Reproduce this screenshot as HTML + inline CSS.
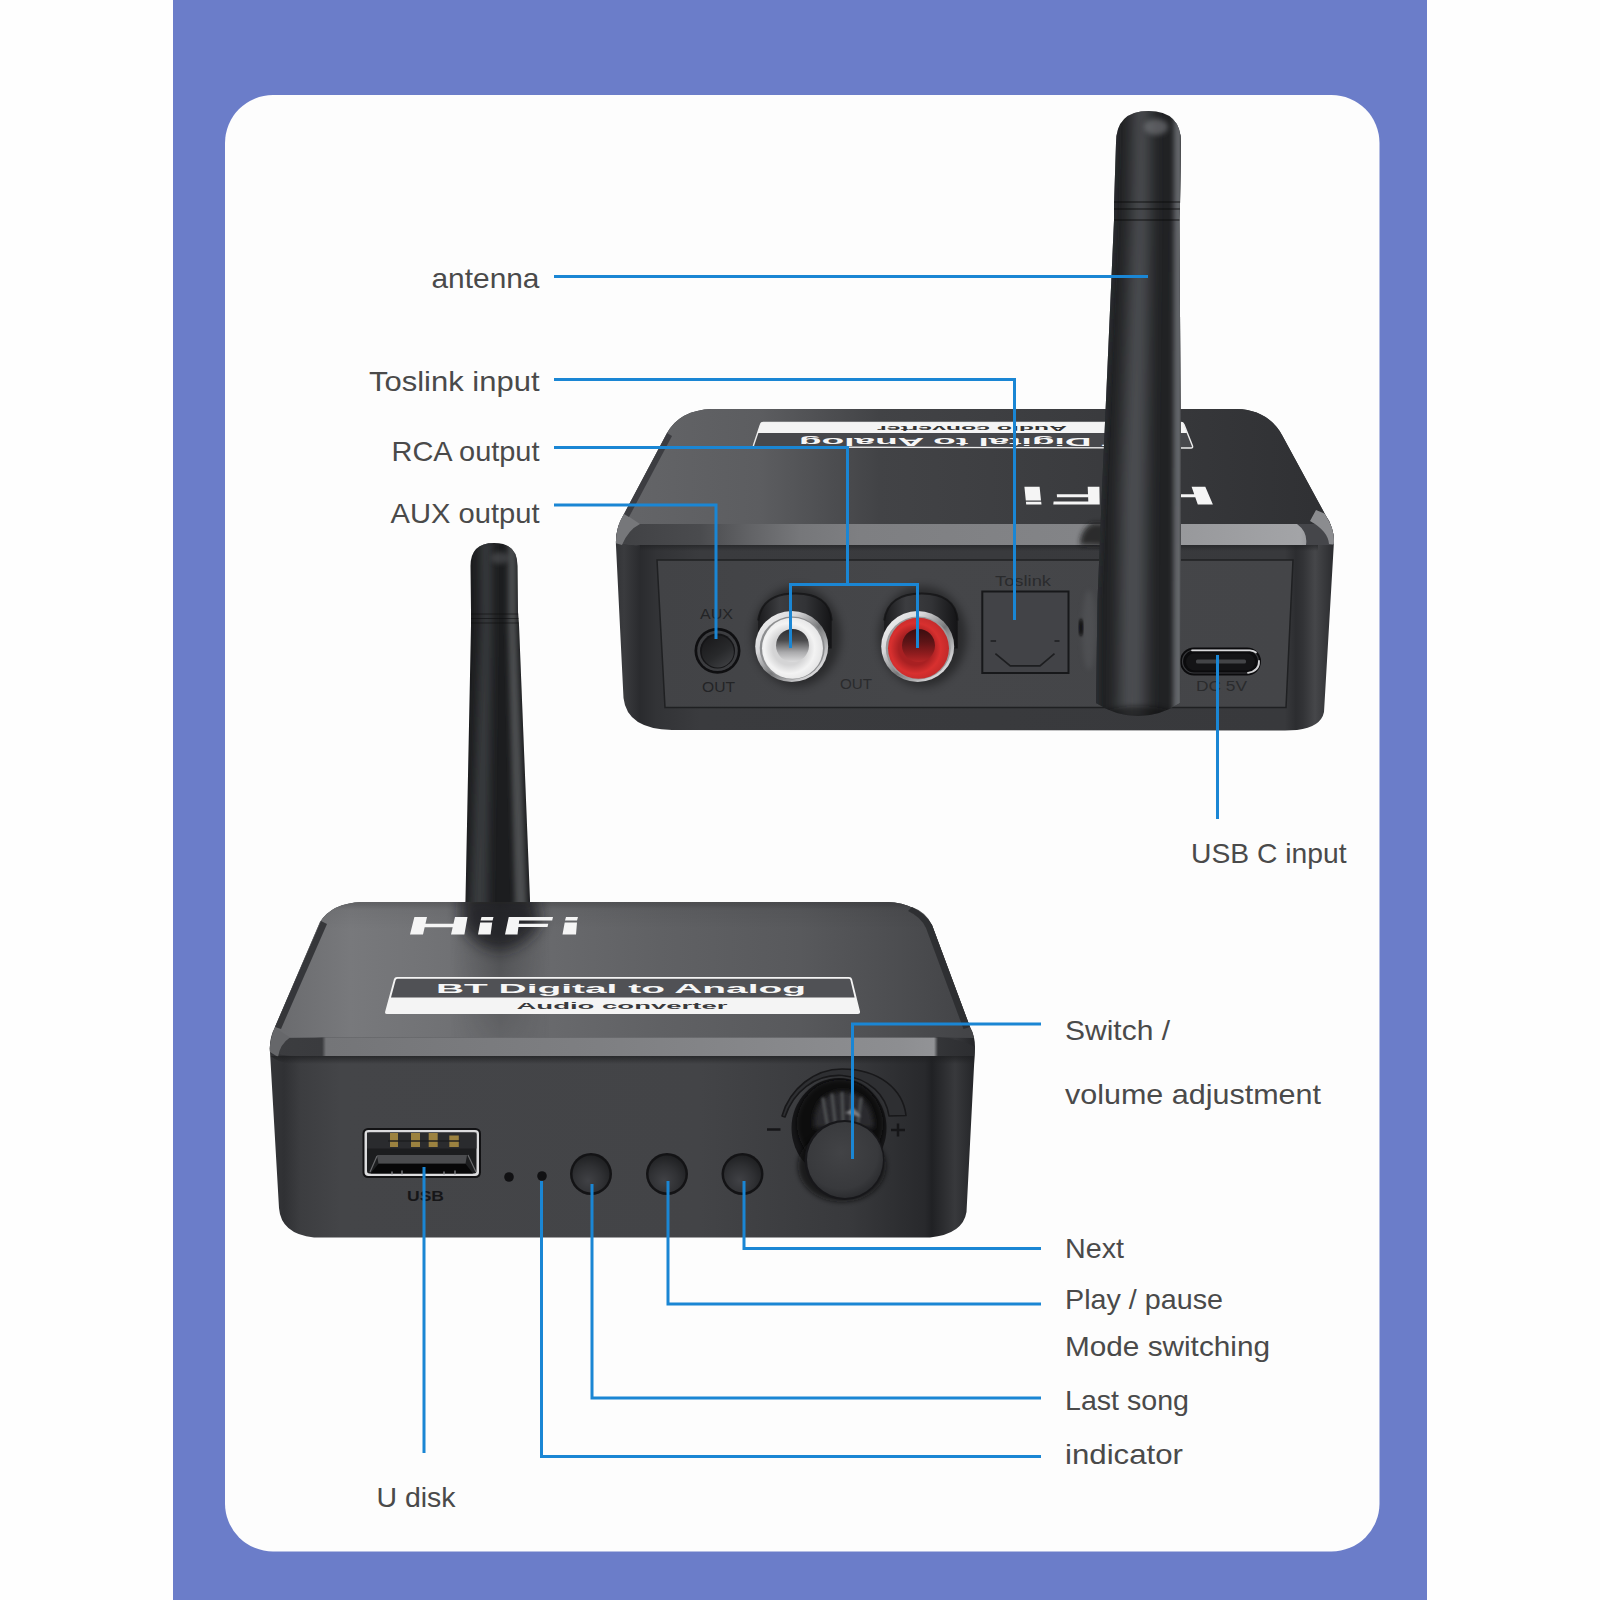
<!DOCTYPE html>
<html>
<head>
<meta charset="utf-8">
<title>Product ports</title>
<style>
html,body{margin:0;padding:0;background:#fefefe;}
body{width:1600px;height:1600px;overflow:hidden;font-family:"Liberation Sans",sans-serif;}
svg{display:block;}
.lbl{font-family:"Liberation Sans",sans-serif;font-size:28.500px;fill:#4a4a4a;}
.ln{fill:none;stroke:#1a86d4;stroke-width:3;stroke-linejoin:miter;stroke-linecap:butt;}
</style>
</head>
<body>
<svg width="1600" height="1600" viewBox="0 0 1600 1600">
<defs>

<linearGradient id="tTop" x1="620" y1="0" x2="1334" y2="0" gradientUnits="userSpaceOnUse"><stop offset="0.0000" stop-color="#646568"/><stop offset="0.1961" stop-color="#5c5d60"/><stop offset="0.3641" stop-color="#424346"/><stop offset="0.6723" stop-color="#3a3b3e"/><stop offset="1.0000" stop-color="#2f3033"/></linearGradient>
<linearGradient id="tCham" x1="616" y1="0" x2="1334" y2="0" gradientUnits="userSpaceOnUse"><stop offset="0.0000" stop-color="#404144"/><stop offset="0.1170" stop-color="#4a4b4e"/><stop offset="0.1866" stop-color="#626366"/><stop offset="0.2563" stop-color="#76777a"/><stop offset="0.3398" stop-color="#7e7f82"/><stop offset="0.6462" stop-color="#838487"/><stop offset="0.7925" stop-color="#98999c"/><stop offset="0.9526" stop-color="#a3a4a7"/><stop offset="1.0000" stop-color="#78797c"/></linearGradient>
<linearGradient id="tFront" x1="615" y1="0" x2="1334" y2="0" gradientUnits="userSpaceOnUse"><stop offset="0.0000" stop-color="#323336"/><stop offset="0.0125" stop-color="#3a3b3e"/><stop offset="0.0348" stop-color="#2a2b2e"/><stop offset="0.0570" stop-color="#323336"/><stop offset="0.1182" stop-color="#3a3b3e"/><stop offset="0.9318" stop-color="#38393c"/><stop offset="0.9471" stop-color="#2c2d30"/><stop offset="0.9569" stop-color="#323336"/><stop offset="0.9736" stop-color="#46474a"/><stop offset="0.9889" stop-color="#36373a"/><stop offset="1.0000" stop-color="#2a2b2e"/></linearGradient>
<linearGradient id="tPanel" x1="657" y1="0" x2="1292" y2="0" gradientUnits="userSpaceOnUse"><stop offset="0.0000" stop-color="#424346"/><stop offset="0.3827" stop-color="#454649"/><stop offset="1.0000" stop-color="#444548"/></linearGradient>
<linearGradient id="ant1" x1="0" y1="0" x2="1" y2="0">
 <stop offset="0" stop-color="#1b1b1d"/><stop offset="0.18" stop-color="#232326"/><stop offset="0.42" stop-color="#3a3a3e"/><stop offset="0.6" stop-color="#252528"/><stop offset="0.85" stop-color="#1a1a1c"/><stop offset="1" stop-color="#2c2c2f"/>
</linearGradient>
<radialGradient id="rcaW" cx="0.5" cy="0.5" r="0.5">
 <stop offset="0" stop-color="#3a3a3c"/><stop offset="0.35" stop-color="#6a6a6c"/><stop offset="0.52" stop-color="#d8d8d8"/><stop offset="0.8" stop-color="#f4f4f4"/><stop offset="1" stop-color="#e2e2e2"/>
</radialGradient>
<radialGradient id="rcaR" cx="0.5" cy="0.5" r="0.5">
 <stop offset="0" stop-color="#3a1012"/><stop offset="0.35" stop-color="#7a1a1c"/><stop offset="0.52" stop-color="#c62a2a"/><stop offset="0.8" stop-color="#d93333"/><stop offset="1" stop-color="#c42b2b"/>
</radialGradient>
<linearGradient id="chrome" x1="0" y1="0" x2="1" y2="1"><stop offset="0" stop-color="#fafafa"/><stop offset="0.3" stop-color="#d8d8da"/><stop offset="0.55" stop-color="#77787a"/><stop offset="0.8" stop-color="#cfcfd1"/><stop offset="1" stop-color="#f0f0f0"/></linearGradient>
<linearGradient id="shell" x1="0" y1="0" x2="1" y2="0"><stop offset="0" stop-color="#1a1a1c"/><stop offset="0.3" stop-color="#3c3d40"/><stop offset="0.65" stop-color="#323336"/><stop offset="1" stop-color="#141416"/></linearGradient>

<linearGradient id="bTop" x1="270" y1="0" x2="975" y2="0" gradientUnits="userSpaceOnUse"><stop offset="0.0000" stop-color="#68696c"/><stop offset="0.1135" stop-color="#78797c"/><stop offset="0.3262" stop-color="#6c6d70"/><stop offset="0.5532" stop-color="#606164"/><stop offset="0.7518" stop-color="#58595c"/><stop offset="0.8936" stop-color="#4c4d50"/><stop offset="1.0000" stop-color="#424346"/></linearGradient>
<linearGradient id="bTopV" x1="0" y1="902" x2="0" y2="1038" gradientUnits="userSpaceOnUse"><stop offset="0" stop-color="#000" stop-opacity="0.07"/><stop offset="0.2" stop-color="#000" stop-opacity="0"/><stop offset="1" stop-color="#000" stop-opacity="0"/></linearGradient>
<linearGradient id="bCham" x1="270" y1="0" x2="975" y2="0" gradientUnits="userSpaceOnUse"><stop offset="0.0000" stop-color="#3c3d40"/><stop offset="0.0738" stop-color="#3a3b3e"/><stop offset="0.0794" stop-color="#747578"/><stop offset="0.4681" stop-color="#7e7f82"/><stop offset="0.8936" stop-color="#8d8e91"/><stop offset="0.9418" stop-color="#929396"/><stop offset="0.9475" stop-color="#343538"/><stop offset="1.0000" stop-color="#2c2d30"/></linearGradient>
<linearGradient id="bFront" x1="270" y1="0" x2="975" y2="0" gradientUnits="userSpaceOnUse"><stop offset="0.0000" stop-color="#343538"/><stop offset="0.0199" stop-color="#303134"/><stop offset="0.0426" stop-color="#3c3d40"/><stop offset="0.0993" stop-color="#444548"/><stop offset="0.6099" stop-color="#434447"/><stop offset="0.8227" stop-color="#38393c"/><stop offset="0.9291" stop-color="#28292c"/><stop offset="0.9390" stop-color="#202124"/><stop offset="0.9716" stop-color="#38393c"/><stop offset="1.0000" stop-color="#242528"/></linearGradient>
<linearGradient id="ant2" x1="0" y1="0" x2="1" y2="0">
 <stop offset="0" stop-color="#1a1a1c"/><stop offset="0.25" stop-color="#252528"/><stop offset="0.5" stop-color="#323236"/><stop offset="0.7" stop-color="#222225"/><stop offset="1" stop-color="#19191b"/>
</linearGradient>
<radialGradient id="btn" cx="0.42" cy="0.68" r="0.7"><stop offset="0" stop-color="#404145"/><stop offset="0.55" stop-color="#303134"/><stop offset="1" stop-color="#1f2022"/></radialGradient>
<radialGradient id="knob" cx="0.45" cy="0.4" r="0.6">
 <stop offset="0" stop-color="#424346"/><stop offset="0.8" stop-color="#38393c"/><stop offset="1" stop-color="#2c2d30"/>
</radialGradient>

<filter id="blur3" x="-50%" y="-50%" width="200%" height="200%"><feGaussianBlur stdDeviation="2.500"/></filter>
<filter id="blur4" x="-50%" y="-50%" width="200%" height="200%"><feGaussianBlur stdDeviation="4"/></filter>
<filter id="blur6" x="-50%" y="-50%" width="200%" height="200%"><feGaussianBlur stdDeviation="7"/></filter>
<filter id="blur10" x="-50%" y="-50%" width="200%" height="200%"><feGaussianBlur stdDeviation="10"/></filter>
<clipPath id="ant1clip"><path d="M1116 143 Q1116 111 1148.500 111 Q1181 111 1181 143 L1180 205 L1179.500 220 L1181 490 L1180 703 Q1160 716 1138 716 Q1116 716 1096 703 L1097.500 600 L1102 490 L1114 220 L1114 205 Z"/></clipPath>
<clipPath id="ant2clip"><path d="M470.500 566 Q470.500 543 494 543 Q517.500 543 517.500 566 L518 612 L519 625 L530 900 L530 910 L465 910 L465.500 900 L471 625 L471 612 Z"/></clipPath>

<radialGradient id="plasW" cx="0.45" cy="0.5" r="0.55"><stop offset="0.5" stop-color="#d4d4d5"/><stop offset="0.75" stop-color="#f3f3f3"/><stop offset="1" stop-color="#e4e4e5"/></radialGradient>
<radialGradient id="plasR" cx="0.45" cy="0.5" r="0.55"><stop offset="0.5" stop-color="#a82022"/><stop offset="0.75" stop-color="#d8302f"/><stop offset="1" stop-color="#c22a2a"/></radialGradient>
<linearGradient id="holeW" x1="0" y1="0" x2="0" y2="1"><stop offset="0" stop-color="#2e2e30"/><stop offset="0.35" stop-color="#4c4c4e"/><stop offset="0.7" stop-color="#a9a9ab"/><stop offset="1" stop-color="#dcdcdd"/></linearGradient>
<linearGradient id="holeR" x1="0" y1="0" x2="0" y2="1"><stop offset="0" stop-color="#3a0e10"/><stop offset="0.4" stop-color="#5e1416"/><stop offset="0.75" stop-color="#8f1c1e"/><stop offset="1" stop-color="#b52526"/></linearGradient>

<clipPath id="bTopClip"><path d="M362 902 L887 902 Q918 903 932 925 L970 1027 Q973 1032 974 1038 L940 1037.500 L325 1037.500 L272 1040 Q272 1033 275 1027 L320 922 Q332 903 362 902 Z"/></clipPath>
<clipPath id="tTopClip"><path d="M712 409 L1237 409 Q1268 410 1282 435 L1326 516 Q1330 521 1331 526 L1300 524 L640 524 L620 527 Q620 520 624 514 L667 433 Q680 410 712 409 Z"/></clipPath>

<linearGradient id="bUnder" x1="0" y1="1056" x2="0" y2="1064" gradientUnits="userSpaceOnUse"><stop offset="0" stop-color="#1e1f21" stop-opacity="0.75"/><stop offset="1" stop-color="#1e1f21" stop-opacity="0"/></linearGradient>
<linearGradient id="tUnder" x1="0" y1="545" x2="0" y2="551" gradientUnits="userSpaceOnUse"><stop offset="0" stop-color="#1e1f21" stop-opacity="0.6"/><stop offset="1" stop-color="#1e1f21" stop-opacity="0"/></linearGradient>

<linearGradient id="auxHole" x1="0.2" y1="0.1" x2="0.8" y2="0.95"><stop offset="0" stop-color="#1b1b1d"/><stop offset="0.55" stop-color="#28292b"/><stop offset="1" stop-color="#3d3e41"/></linearGradient>
<clipPath id="tSil"><path d="M712 409 L1237 409 Q1268 410 1282 435 L1326 516 Q1334 528 1334 541 L1324 712 Q1321 727 1297 730 L1285 730.500 L672 730 Q627 729 623.500 698 L616 546 Q615 528 624 514 L667 433 Q680 410 712 409 Z"/></clipPath>
<filter id="blur1" x="-20%" y="-20%" width="140%" height="140%"><feGaussianBlur stdDeviation="0.900"/></filter>
<linearGradient id="smear" x1="0" y1="900" x2="0" y2="1040" gradientUnits="userSpaceOnUse"><stop offset="0" stop-color="#1d1e20" stop-opacity="0.55"/><stop offset="0.5" stop-color="#1d1e20" stop-opacity="0.3"/><stop offset="1" stop-color="#1d1e20" stop-opacity="0.12"/></linearGradient>
<linearGradient id="smearH" x1="450" y1="0" x2="550" y2="0" gradientUnits="userSpaceOnUse"><stop offset="0" stop-color="#1d1e20" stop-opacity="0"/><stop offset="0.25" stop-color="#1d1e20" stop-opacity="0.5"/><stop offset="0.5" stop-color="#1d1e20" stop-opacity="1"/><stop offset="0.75" stop-color="#1d1e20" stop-opacity="0.5"/><stop offset="1" stop-color="#1d1e20" stop-opacity="0"/></linearGradient>
<linearGradient id="smearV" x1="0" y1="900" x2="0" y2="1040" gradientUnits="userSpaceOnUse"><stop offset="0" stop-color="#fff" stop-opacity="0.5"/><stop offset="0.5" stop-color="#fff" stop-opacity="0.3"/><stop offset="1" stop-color="#fff" stop-opacity="0.1"/></linearGradient>
<mask id="smearMask" maskUnits="userSpaceOnUse" x="440" y="890" width="120" height="160"><rect x="440" y="890" width="120" height="160" fill="url(#smearV)"/></mask>
</defs>
<rect x="0" y="0" width="1600" height="1600" fill="#fefefe"/>
<rect x="173" y="0" width="1254" height="1600" fill="#6b7dc9"/>
<rect x="225" y="95" width="1154.500" height="1456.500" rx="48" ry="48" fill="#fdfdfd"/>


<g id="ant2" clip-path="url(#ant2clip)">
 <rect x="460" y="540" width="76" height="380" fill="#1c1d1f"/>
 <g filter="url(#blur4)">
  <path d="M480 540 L492 540 L492 625 L488 910 L470 910 L481 625 Z" fill="#393a3e"/>
 </g>
 <g filter="url(#blur3)">
  <path d="M508 540 L516 540 L516.500 625 L527 910 L515 910 L508 625 Z" fill="#4b4e50"/>
 </g>
 <path d="M468 614 H521 M468 618.500 H521 M468 623 H521" stroke="#0c0c0d" stroke-width="1.200" opacity="0.55"/>
 <ellipse cx="500" cy="558" rx="9" ry="6" fill="#66686c" opacity="0.45" filter="url(#blur3)"/>
</g>


<g id="topdev">
 <!-- silhouette / front face -->
 <path d="M712 409 L1237 409 Q1268 410 1282 435 L1326 516 Q1334 528 1334 541 L1324 712 Q1321 727 1297 730 L1285 730.500 L672 730 Q627 729 623.500 698 L616 546 Q615 528 624 514 L667 433 Q680 410 712 409 Z" fill="url(#tFront)"/>
 <!-- top face -->
 <path d="M712 409 L1237 409 Q1268 410 1282 435 L1326 516 Q1330 521 1331 526 L1300 524 L640 524 L620 527 Q620 520 624 514 L667 433 Q680 410 712 409 Z" fill="url(#tTop)"/>
 <!-- chamfer band -->
 <g clip-path="url(#tSil)">
 <path d="M610 524 L1340 524 L1340 545 L640 545 Q626 546 610 540 Z" fill="#45464a"/>
 <path d="M640 524 L1297 524 Q1308 532 1306 545 L640 545 Q626 546 616 540 Q616 530 622 524 Z" fill="url(#tCham)"/>
 <path d="M612 542 Q612 528 622 512 L640 524 Q628 530 622 545 Z" fill="#76777a"/>
 <path d="M667 433 L624 514 L629 517 L672 436 Z" fill="#38393d" opacity="0.9"/>
 <path d="M1316 510 L1340 520 L1340 545 L1329 544 Q1328 531 1310 521 Z" fill="#8b8c8f"/>
 </g>
 <path d="M640 545 L1318 545 L1318 551 L640 551 Z" fill="url(#tUnder)"/>
 <!-- inset panel -->
 <path d="M657 560 L1293 560 L1286 707.500 L665 707.500 Z" fill="url(#tPanel)" stroke="#1f2022" stroke-width="1.500"/>
 <!-- label on top -->
 <g>
  <path d="M763 422.500 L1181 422.500 Q1183 422.500 1184 424.500 L1192.500 446 Q1193 448 1191 448 L755 447 Q753 447 753.600 445 L760.500 424.500 Q761 422.500 763 422.500 Z" fill="#47484c" stroke="#ececec" stroke-width="1.400"/>
  <path d="M761 422.500 L1183 422.500 L1187 433 L757.500 433 Z" fill="#f4f4f4"/>
  <g transform="translate(972 428) scale(-1 -1)"><text x="0" y="0" text-anchor="middle" font-family="Liberation Sans" font-weight="bold" font-size="8" textLength="190" lengthAdjust="spacingAndGlyphs" fill="#333" dominant-baseline="middle">Audio converter</text></g>
  <g transform="translate(975 440.500) scale(-1 -1)"><text x="0" y="0" text-anchor="middle" font-family="Liberation Sans" font-weight="bold" font-size="11" textLength="352" lengthAdjust="spacingAndGlyphs" fill="#f6f6f6" dominant-baseline="middle">BT Digital to Analog</text></g>
 </g>
 <!-- HiFi upside down -->
 <g fill="#f5f5f5">
  <path d="M1024.400 486.700 H1039.600 L1041 500.400 H1025.800 Z M1025.900 501.800 H1041.200 L1041.500 504.600 H1026.200 Z"/>
  <path d="M1087.700 486.700 H1099.400 L1099.700 504.600 H1053.300 L1053.600 501.500 H1088.300 Z M1056.800 494.300 H1088 L1088.100 497.300 H1057 Z"/>
  <path d="M1191.600 486.700 H1205.300 L1212.900 504.600 H1197.800 Z M1170 494.300 H1195 L1196 497.300 H1170 Z"/>
 </g>
 <!-- AUX jack -->
 <g>
  <text x="716.500" y="619" text-anchor="middle" font-family="Liberation Sans" font-size="15" textLength="33" lengthAdjust="spacingAndGlyphs" fill="#232426">AUX</text>
  <text x="718.500" y="691.500" text-anchor="middle" font-family="Liberation Sans" font-size="15" textLength="33" lengthAdjust="spacingAndGlyphs" fill="#232426">OUT</text>
  <circle cx="717.500" cy="650.800" r="23" fill="#0f0f11"/>
  <circle cx="717.500" cy="650.800" r="20.300" fill="#3c3d40"/>
  <circle cx="717.500" cy="651" r="17.500" fill="#151517"/>
  <circle cx="717.800" cy="651.500" r="16" fill="url(#auxHole)"/>
 </g>
 <!-- RCA jacks -->
 <g transform="translate(791.700 646.500)">
  <ellipse cx="5" cy="-10" rx="44" ry="50" fill="#000" opacity="0.38" filter="url(#blur4)"/>
  <path d="M-34 2 L-33.500 -26 Q-30 -53 4 -53 Q38 -53 40 -26 L40 2 Z" fill="url(#shell)"/>
  <path d="M-33.500 -26 Q-30 -53 4 -53 Q38 -53 40 -26" fill="none" stroke="#111113" stroke-width="2" opacity="0.7"/>
  <ellipse cx="0" cy="0" rx="36.500" ry="35.500" fill="url(#chrome)"/>
  <ellipse cx="0.500" cy="1.500" rx="32.500" ry="31.500" fill="#8d8e90"/>
  <circle cx="0.800" cy="1.800" r="30.500" fill="url(#plasW)"/>
  <circle cx="0.800" cy="-1" r="16.500" fill="url(#holeW)"/>
 </g>
 <text x="856" y="689" text-anchor="middle" font-family="Liberation Sans" font-size="15" textLength="32" lengthAdjust="spacingAndGlyphs" fill="#2a2b2d">OUT</text>
 <g transform="translate(917.700 646.500)">
  <ellipse cx="5" cy="-10" rx="44" ry="50" fill="#000" opacity="0.38" filter="url(#blur4)"/>
  <path d="M-34 2 L-33.500 -26 Q-30 -53 4 -53 Q38 -53 40 -26 L40 2 Z" fill="url(#shell)"/>
  <path d="M-33.500 -26 Q-30 -53 4 -53 Q38 -53 40 -26" fill="none" stroke="#111113" stroke-width="2" opacity="0.7"/>
  <ellipse cx="0" cy="0" rx="36.500" ry="35.500" fill="url(#chrome)"/>
  <ellipse cx="0.500" cy="1.500" rx="32.500" ry="31.500" fill="#9a9a9c"/>
  <circle cx="0.800" cy="1.800" r="30.500" fill="url(#plasR)"/>
  <circle cx="0.800" cy="-1" r="16.500" fill="url(#holeR)"/>
 </g>
 <!-- Toslink -->
 <g>
  <text x="1023" y="586" text-anchor="middle" font-family="Liberation Sans" font-size="15" textLength="56" lengthAdjust="spacingAndGlyphs" fill="#2a2b2d">Toslink</text>
  <rect x="982.300" y="591.500" width="86.200" height="81.500" fill="#424347" stroke="#17181a" stroke-width="2"/>
  <path d="M995.400 653.600 L1010.300 665.900 L1040 665.900 L1054.500 653.600" fill="none" stroke="#1d1e20" stroke-width="1.700"/>
  <path d="M990.600 641 h5.500 M1054.500 641 h5" stroke="#1d1e20" stroke-width="1.700"/>
 </g>
 <!-- USB C -->
 <g>
  <rect x="1180" y="647.500" width="81" height="28" rx="14" fill="#0b0b0d"/>
  <rect x="1182.500" y="650" width="76" height="23" rx="11.500" fill="none" stroke="#38393c" stroke-width="1.200"/>
  <path d="M1192 650.300 H1250 Q1254 650.800 1256 652.500" fill="none" stroke="#d9d9db" stroke-width="1.700" stroke-linecap="round"/>
  <path d="M1259 661 Q1259.500 671 1248 672.800" fill="none" stroke="#d0d0d2" stroke-width="1.800" stroke-linecap="round"/>
  <rect x="1186" y="653.500" width="69" height="17" rx="8.500" fill="#141416"/>
  <rect x="1196" y="659.500" width="50" height="4" rx="1.500" fill="#434447"/>
  <text x="1221.500" y="690.500" text-anchor="middle" font-family="Liberation Sans" font-size="15" textLength="51" lengthAdjust="spacingAndGlyphs" fill="#2a2b2d">DC 5V</text>
 </g>
 <!-- antenna shadow on body -->
 <path d="M1080 545 Q1080 530 1092 523 L1110 523 L1110 546 Z" fill="#1a1b1d" opacity="0.85" filter="url(#blur3)"/>
 <ellipse cx="1089" cy="630" rx="7" ry="40" fill="#5a5b5f" opacity="0.45" filter="url(#blur3)"/>
 <ellipse cx="1081" cy="627.500" rx="2" ry="9" fill="#070708" opacity="0.95" filter="url(#blur1)"/>
 <!-- antenna -->
 <g clip-path="url(#ant1clip)">
  <rect x="1090" y="105" width="100" height="620" fill="#212224"/>
  <g filter="url(#blur6)">
   <path d="M1133 100 L1150 100 L1150 220 L1147 490 L1146 720 L1118 720 L1121 490 L1131 220 Z" fill="#4b4e51"/>
  </g>
  <g filter="url(#blur3)">
   <path d="M1174 100 L1186 100 L1186 720 L1173 720 Z" fill="#64666a"/>
   <path d="M1112 100 L1118 100 L1116 220 L1099 600 L1099 720 L1093 720 L1093 600 L1110 220 Z" fill="#2c2d30"/>
  </g>
  <path d="M1180.500 111 V720" stroke="#4a4b4e" stroke-width="1.500"/>
  <path d="M1110 202 H1184 M1110 209 H1184 M1110 220 H1184" stroke="#0c0c0d" stroke-width="1.400" opacity="0.55"/>
  <ellipse cx="1156" cy="127" rx="12" ry="8" fill="#7a7c80" opacity="0.6" filter="url(#blur3)"/>
  <ellipse cx="1138" cy="722" rx="46" ry="16" fill="#0f0f10" opacity="0.5" filter="url(#blur3)"/>
 </g>
</g>


<g id="botdev">
 <path d="M362 902 L887 902 Q918 903 932 925 L970 1027 Q975 1036 975 1047 L966.500 1212 Q963 1234 930 1237.500 L314 1237.500 Q281 1234 279 1208 L270 1052 Q269 1038 275 1027 L320 922 Q332 903 362 902 Z" fill="url(#bFront)"/>
 <!-- top face -->
 <path d="M362 902 L887 902 Q918 903 932 925 L970 1027 Q973 1032 974 1038 L940 1037.500 L325 1037.500 L272 1040 Q272 1033 275 1027 L320 922 Q332 903 362 902 Z" fill="url(#bTop)"/>
 <path d="M362 902 L887 902 Q918 903 932 925 L970 1027 Q973 1032 974 1038 L940 1037.500 L325 1037.500 L272 1040 Q272 1033 275 1027 L320 922 Q332 903 362 902 Z" fill="url(#bTopV)"/>
 <!-- antenna reflection on top face -->
 <g clip-path="url(#bTopClip)">
  <path d="M462 896 L534 896 L540 925 Q520 950 500 950 Q478 950 462 925 Z" fill="#1d1e20" opacity="0.8" filter="url(#blur6)"/>
  <rect x="450" y="900" width="100" height="140" fill="url(#smearH)" mask="url(#smearMask)"/>
  <rect x="300" y="899" width="660" height="7" fill="#000" opacity="0.14" filter="url(#blur3)"/>
 </g>
 <!-- bevel strips on diagonal edges -->
 <path d="M321 921 L275 1027 L281 1029 L327 924 Z" fill="#2c2d30" opacity="0.85"/>
 <path d="M912 907 Q926 912 932 925 L970 1027 L963.500 1029 L926 928 Q921 917 908 911 Z" fill="#2a2b2e" opacity="0.85"/>
 <!-- chamfer -->
 <path d="M325 1037.500 L935 1037.500 Q960 1038 975 1047 L974.500 1056 L300 1056 Q280 1056 270 1052 Q269 1044 272 1038 Z" fill="url(#bCham)"/>
 <path d="M270 1052 Q269 1040 275 1028 L290 1037.500 Q280 1044 278 1057 Z" fill="#66676a"/>
 <path d="M300 1056 L974.500 1056 L974.300 1064 L290 1064 Q278 1062 270.500 1056 Z" fill="url(#bUnder)"/>
 <!-- label -->
 <g>
  <path d="M397 977 L849 977 Q851.500 977 852 979 L860 1011.500 Q860.500 1014 858 1014 L387 1014 Q384.500 1014 385.200 1011.500 L394 979 Q394.600 977 397 977 Z" fill="#f4f4f4"/>
  <path d="M397.500 978.800 L848.500 978.800 Q850 978.800 850.400 980 L854.600 997.500 L391 997.500 L395.600 980.300 Q396 978.800 397.500 978.800 Z" fill="#505155"/>
  <text x="621" y="992.800" text-anchor="middle" font-family="Liberation Sans" font-weight="bold" font-size="12.800" textLength="370" lengthAdjust="spacingAndGlyphs" fill="#f6f6f6">BT Digital to Analog</text>
  <text x="622" y="1009.200" text-anchor="middle" font-family="Liberation Sans" font-weight="bold" font-size="8.800" textLength="211" lengthAdjust="spacingAndGlyphs" fill="#3a3a3c">Audio converter</text>
 </g>
 <!-- HiFi -->
 <g fill="#f5f5f5">
  <path d="M414.400 917 H427 L423 934.400 H410 Z M455 917 H467.500 L464.400 934.400 H451 Z M425 923.700 H454.500 L453.500 927.300 H424 Z"/>
  <path d="M481.500 917 H493.500 L492.600 920.600 H480.600 Z M480.200 922.500 H492.200 L490.600 934.400 H478 Z"/>
  <path d="M508.750 917 H553 L552.200 920.600 H519.200 L517.500 934.400 H505 Z M518 923.700 H548.300 L547.500 927.100 H517.400 Z"/>
  <path d="M566 917 H578 L577 920.600 H565 Z M564.700 922.500 H577 L576 934.400 H562.500 Z"/>
 </g>
 <!-- USB A -->
 <g>
  <rect x="362.500" y="1128" width="118.500" height="50" rx="5.500" fill="#121214"/>
  <rect x="364.500" y="1130" width="114.500" height="46" rx="4" fill="#dcdcde"/>
  <rect x="367" y="1132.500" width="109.500" height="41" rx="2.500" fill="#1c1d1f"/>
  <path d="M367 1132.500 h109.500 v16 h-109.500 Z" fill="#2a2b2e"/>
  <g fill="#9c8240">
   <rect x="390" y="1133" width="8" height="14"/><rect x="411" y="1133" width="9" height="14"/><rect x="428.700" y="1133" width="9" height="14"/><rect x="449.300" y="1135.500" width="9.500" height="11.500"/>
  </g>
  <path d="M388 1141 h72" stroke="#1c1d1f" stroke-width="1.800" opacity="0.7"/>
  <path d="M377 1155 H467 L465.500 1163.700 H378.500 Z" fill="#4b4c4f"/>
  <path d="M378.500 1163.700 H465.500 L473 1173.500 H370.500 Z" fill="#070708"/>
  <path d="M370 1172 l7 -16 M476 1172 l-8 -17" stroke="#8a8b8e" stroke-width="1.200" opacity="0.7"/>
  <path d="M392 1171.500 v3 M402 1170.500 v4 M444 1171.500 v3 M455 1170.500 v4" stroke="#85868a" stroke-width="1.300"/>
  <text x="425.500" y="1200.500" text-anchor="middle" font-family="Liberation Sans" font-weight="bold" font-size="15.500" textLength="37" lengthAdjust="spacingAndGlyphs" fill="#161618">USB</text>
 </g>
 <!-- indicators -->
 <circle cx="509" cy="1177" r="4.800" fill="#111113"/>
 <circle cx="542" cy="1176" r="4.800" fill="#111113"/>
 <!-- buttons -->
 <g>
  <circle cx="591" cy="1174" r="21" fill="#131315"/><circle cx="591" cy="1174" r="18.500" fill="url(#btn)"/>
  <circle cx="667" cy="1174" r="21" fill="#131315"/><circle cx="667" cy="1174" r="18.500" fill="url(#btn)"/>
  <circle cx="742.500" cy="1174" r="21" fill="#131315"/><circle cx="742.500" cy="1174" r="18.500" fill="url(#btn)"/>
 </g>
 <!-- knob -->
 <g>
  <path d="M782 1116 C790 1088 815 1069 842 1069 C880 1069 903 1090 906 1115.500 L889 1116 C886 1096 870 1078 842 1075.500 C815 1074 793 1092 785 1117 Z" fill="#2e2f32" stroke="#18181a" stroke-width="1.600" stroke-linejoin="round"/>
  <ellipse cx="839" cy="1128" rx="47.500" ry="50" fill="#161618"/>
  <ellipse cx="840" cy="1124" rx="43" ry="44" fill="#0f0f11" filter="url(#blur3)"/>
  <path d="M814 1128 Q812 1094 843 1091 Q873 1094 874 1128 Z" fill="#2a2a2d" filter="url(#blur3)"/>
  <g filter="url(#blur1)">
   <path d="M823 1099 l4 24 M832 1095 l3 26 M842 1093.500 l1 27 M852 1095 l-1 26 M861 1099 l-3 23" stroke="#4a4b4e" stroke-width="3.500" stroke-linecap="round"/>
   <path d="M845 1113 l9 -5 l7 9 Z" fill="#9a9b9e" opacity="0.75"/>
  </g>
  <ellipse cx="842" cy="1166" rx="44" ry="36" fill="#0e0e10" opacity="0.7" filter="url(#blur3)"/>
  <circle cx="844.500" cy="1160" r="40" fill="#17171a"/>
  <circle cx="845" cy="1160" r="38" fill="url(#knob)"/>
  <path d="M767 1129.500 h13.500" stroke="#161618" stroke-width="2.500"/>
  <path d="M891 1130 h14 M898 1123.500 v13" stroke="#161618" stroke-width="2.500"/>
 </g>
</g>

<!-- callout lines -->
<g class="ln">
<path d="M554 276.500 H1148"/>
<path d="M554 379.500 H1014.500 V620"/>
<path d="M554 447.500 H847.500 V584.500 M790.500 648 V584.500 H917.500 V648"/>
<path d="M554 505 H716 V639"/>
<path d="M1217.500 655 V819"/>
<path d="M1041 1024 H852.500 V1159"/>
<path d="M1041 1248.500 H744 V1181"/>
<path d="M1041 1304 H668 V1181"/>
<path d="M1041 1398 H592 V1184"/>
<path d="M1041 1456.500 H541.500 V1181"/>
<path d="M424 1167 V1453"/>
</g>

<!-- labels -->
<g class="lbl">
<text x="539.500" y="288" text-anchor="end" textLength="108" lengthAdjust="spacingAndGlyphs">antenna</text>
<text x="539.500" y="391" text-anchor="end" textLength="170.500" lengthAdjust="spacingAndGlyphs">Toslink input</text>
<text x="539.500" y="461" text-anchor="end" textLength="148" lengthAdjust="spacingAndGlyphs">RCA output</text>
<text x="539.500" y="523" text-anchor="end" textLength="149" lengthAdjust="spacingAndGlyphs">AUX output</text>
<text x="1191" y="862.500" textLength="155.500" lengthAdjust="spacingAndGlyphs">USB C input</text>
<text x="1065" y="1040" textLength="105" lengthAdjust="spacingAndGlyphs">Switch /</text>
<text x="1065" y="1104" textLength="256" lengthAdjust="spacingAndGlyphs">volume adjustment</text>
<text x="1065" y="1258" textLength="59" lengthAdjust="spacingAndGlyphs">Next</text>
<text x="1065" y="1308.500" textLength="158" lengthAdjust="spacingAndGlyphs">Play / pause</text>
<text x="1065" y="1356" textLength="205" lengthAdjust="spacingAndGlyphs">Mode switching</text>
<text x="1065" y="1410" textLength="124" lengthAdjust="spacingAndGlyphs">Last song</text>
<text x="1065" y="1463.500" textLength="118" lengthAdjust="spacingAndGlyphs">indicator</text>
<text x="376.500" y="1507" textLength="79" lengthAdjust="spacingAndGlyphs">U disk</text>
</g>
</svg>
</body>
</html>
